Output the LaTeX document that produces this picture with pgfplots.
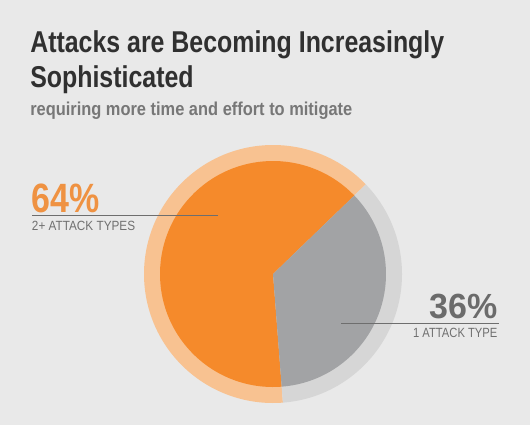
\documentclass[border=0pt]{standalone}
\usepackage{pgfplots}
\pgfplotsset{compat=1.18}
\usepackage{pgfplotstable}
\usepackage{graphicx}
\usepackage{fontspec}
\setmainfont{Liberation Sans}
\definecolor{bg}{HTML}{E9E9E9}
\definecolor{pieorange}{HTML}{F58A2B}
\definecolor{ringorange}{HTML}{F8C291}
\definecolor{piegrey}{HTML}{A2A3A5}
\definecolor{ringgrey}{HTML}{D6D6D6}
\definecolor{titlecol}{HTML}{303030}
\definecolor{subcol}{HTML}{777777}
\definecolor{pcorange}{HTML}{EF9242}
\definecolor{pcgrey}{HTML}{6B6B6B}
\definecolor{labcol}{HTML}{707070}
\definecolor{linecol}{HTML}{6E6E6E}
\newsavebox\fitbox
\newcommand\fitw[2]{\sbox\fitbox{#2}\pgfmathsetmacro\fitsc{#1/\wd\fitbox}\xdef\lastfitsc{\fitsc}\scalebox{\fitsc}[1]{\usebox\fitbox}}
\pgfplotstableread{
label value
multi 64
single 36
}\piedata
\begin{document}
\begin{tikzpicture}[x=0.75pt,y=-0.75pt]
\useasboundingbox (0,0) rectangle (530,425);
\fill[bg] (0,0) rectangle (530,425);
\pgfplotstablegetelem{0}{value}\of\piedata \let\va\pgfplotsretval
\pgfplotstablegetelem{1}{value}\of\piedata \let\vb\pgfplotsretval
\pgfmathsetmacro\angS{44}
\pgfmathsetmacro\angM{\angS+3.6*\va}
\pgfmathsetmacro\angE{\angM+3.6*\vb}
\begin{axis}[at={(204.75pt,-205.5pt)},anchor=center,x=0.75pt,y=0.75pt,
  xmin=-135,xmax=135,ymin=-135,ymax=135,hide axis,clip=false]
\addplot[draw=none] coordinates {(0,0)};
\fill[ringorange] (axis cs:0,0) -- ++(\angS:96.75pt) arc[start angle=\angS,end angle=\angM,radius=96.75pt] -- cycle;
\fill[ringgrey] (axis cs:0,0) -- ++(\angM:96.75pt) arc[start angle=\angM,end angle=\angE,radius=96.75pt] -- cycle;
\fill[pieorange] (axis cs:0,0) -- ++(\angS:84.75pt) arc[start angle=\angS,end angle=\angM,radius=84.75pt] -- cycle;
\fill[piegrey] (axis cs:0,0) -- ++(\angM:84.75pt) arc[start angle=\angM,end angle=\angE,radius=84.75pt] -- cycle;
\end{axis}
% title
\node[anchor=base west,inner sep=0pt,text=titlecol,font=\fontsize{22.6pt}{26pt}\bfseries] at (30,52.3)
  {\fitw{310.5}{Attacks are Becoming Increasingly}};
\node[anchor=base west,inner sep=0pt,text=titlecol,font=\fontsize{22.6pt}{26pt}\bfseries] at (30,87.3)
  {\scalebox{\lastfitsc}[1]{Sophisticated}};
\node[anchor=base west,inner sep=0pt,text=subcol,font=\fontsize{14pt}{16pt}\bfseries] at (30,115.7)
  {\fitw{241.5}{requiring more time and effort to mitigate}};
% left label
\draw[linecol,line width=0.8pt] (32,215.7) -- (218,215.7);
\node[anchor=base west,inner sep=0pt,text=pcorange,font=\fontsize{30.7pt}{32pt}\bfseries] at (31.7,212.7)
  {\fitw{51}{64\%}};
\node[anchor=base west,inner sep=0pt,text=labcol,font=\fontsize{9.4pt}{11pt}] at (31.7,230)
  {\fitw{77.4}{2+ ATTACK TYPES}};
% right label
\draw[linecol,line width=0.8pt] (341,323.7) -- (499,323.7);
\node[anchor=base east,inner sep=0pt,text=pcgrey,font=\fontsize{26.2pt}{28pt}\bfseries] at (497.7,318)
  {\fitw{51}{36\%}};
\node[anchor=base east,inner sep=0pt,text=labcol,font=\fontsize{9.4pt}{11pt}] at (497.7,337.3)
  {\fitw{63.3}{1 ATTACK TYPE}};
\end{tikzpicture}
\end{document}
